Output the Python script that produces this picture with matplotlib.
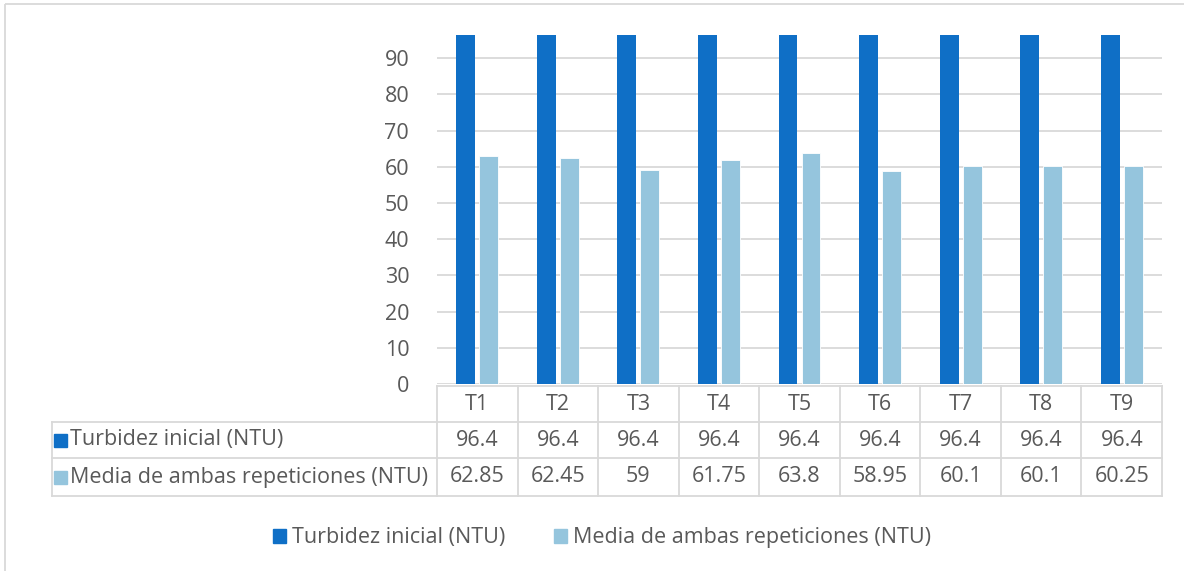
import matplotlib.pyplot as plt
from matplotlib.patches import Patch, Rectangle
import numpy as np

# Datos del grafico
categorias = ['T1', 'T2', 'T3', 'T4', 'T5', 'T6', 'T7', 'T8', 'T9']
turbidez_inicial = [96.4, 96.4, 96.4, 96.4, 96.4, 96.4, 96.4, 96.4, 96.4]
media_repeticiones = [62.85, 62.45, 59, 61.75, 63.8, 58.95, 60.1, 60.1, 60.25]
series_nombres = ['Turbidez inicial (NTU)', 'Media de ambas repeticiones (NTU)']

color_oscuro = '#0F6FC6'
color_claro = '#95C5DD'
color_texto = '#595959'
color_linea = '#D9D9D9'
fuente = 'Open Sans'
tam = 15.5

W, H = 1184, 571
fig = plt.figure(figsize=(W / 100, H / 100), dpi=100)

# area de trazado (en pixeles de la imagen)
x0, x1, y_top, y_bot = 437, 1162, 35, 384
ax = fig.add_axes([x0 / W, 1 - y_bot / H, (x1 - x0) / W, (y_bot - y_top) / H])

x = np.arange(len(categorias))
ancho = 0.235
ax.bar(x - 0.143, turbidez_inicial, width=ancho, color=color_oscuro, zorder=3)
ax.bar(x + 0.143, media_repeticiones, width=ancho, color=color_claro,
       edgecolor='white', linewidth=0.6, zorder=3)

ax.set_xlim(-0.5, len(categorias) - 0.5)
ax.set_ylim(0, 96.4)
ax.set_yticks(range(0, 100, 10))
ax.set_xticks([])
ax.grid(axis='y', color=color_linea, linewidth=1.3, zorder=0)
for s in ax.spines.values():
    s.set_visible(False)
ax.tick_params(axis='y', length=0, pad=20, labelsize=tam, labelcolor=color_texto)
for lbl in ax.get_yticklabels():
    lbl.set_fontfamily(fuente)

# tabla de datos dibujada debajo del grafico
tab = fig.add_axes([0, 0, 1, 1])
tab.set_xlim(0, W)
tab.set_ylim(H, 0)
tab.axis('off')

col_w = (x1 - x0) / len(categorias)
bordes = [x0 + i * col_w for i in range(len(categorias) + 1)]
filas = [386, 422, 458, 496]
t_left = 52

for b in bordes:
    tab.plot([b, b], [filas[0], filas[-1]], color=color_linea, lw=1.3)
tab.plot([t_left, t_left], [filas[1], filas[-1]], color=color_linea, lw=1.3)
tab.plot([x0, x1], [filas[0], filas[0]], color=color_linea, lw=1.3)
for f in filas[1:]:
    tab.plot([t_left, x1], [f, f], color=color_linea, lw=1.3)

for i, c in enumerate(categorias):
    cx = (bordes[i] + bordes[i + 1]) / 2
    tab.text(cx, (filas[0] + filas[1]) / 2, c, ha='center', va='center',
             fontsize=tam, color=color_texto, family=fuente)
    tab.text(cx, (filas[1] + filas[2]) / 2, f'{turbidez_inicial[i]:g}', ha='center',
             va='center', fontsize=tam, color=color_texto, family=fuente)
    tab.text(cx, (filas[2] + filas[3]) / 2, f'{media_repeticiones[i]:g}', ha='center',
             va='center', fontsize=tam, color=color_texto, family=fuente)

for j, (nombre, col) in enumerate(zip(series_nombres, [color_oscuro, color_claro])):
    cy = (filas[j + 1] + filas[j + 2]) / 2
    tab.add_patch(Rectangle((54, cy - 6.5), 13, 13, color=col))
    tab.text(70, cy, nombre, ha='left', va='center', fontsize=tam,
             color=color_texto, family=fuente)

# borde exterior del grafico
tab.add_patch(Rectangle((5, 4), W + 10, H + 10, fill=False, edgecolor=color_linea, lw=1.3))

# leyenda
handles = [Patch(color=color_oscuro), Patch(color=color_claro)]
leg = fig.legend(handles, series_nombres, loc='center', bbox_to_anchor=(602 / W, 1 - 538 / H),
                 ncol=2, frameon=False, handlelength=0.6, handleheight=0.6,
                 handletextpad=0.25, columnspacing=2.3,
                 prop={'family': fuente, 'size': tam})
for t in leg.get_texts():
    t.set_color(color_texto)

fig.savefig('out.png', dpi=100)
